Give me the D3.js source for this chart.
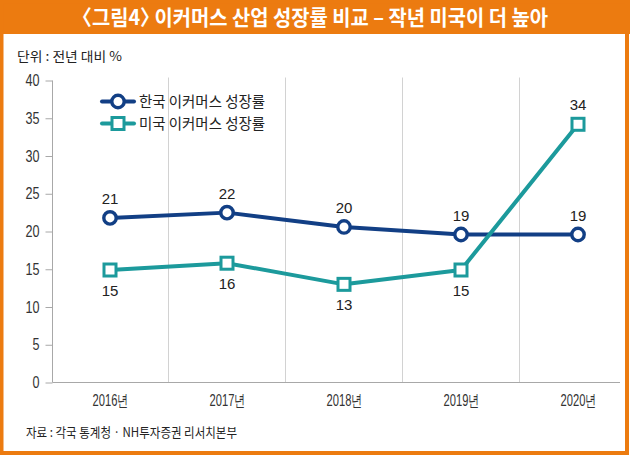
<!DOCTYPE html>
<html>
<head>
<meta charset="utf-8">
<script src="https://cdn.jsdelivr.net/npm/d3@7"></script>
<style>
  html, body { margin: 0; padding: 0; background: #fff; }
  svg { display: block; }
</style>
</head>
<body>
<svg id="chart" width="630" height="456"></svg>
<script>
// ---- data ----
const titleText = "〈그림4〉 이커머스 산업 성장률 비교 – 작년 미국이 더 높아";
const unitText = "단위 : 전년 대비 %";
const sourceText = "자료 : 각국 통계청 · NH투자증권 리서치본부";
const years = ["2016년", "2017년", "2018년", "2019년", "2020년"];
const seriesNames = ["한국 이커머스 성장률", "미국 이커머스 성장률"];
const korea = [21.8, 22.5, 20.6, 19.6, 19.6];
const koreaLabels = ["21", "22", "20", "19", "19"];
const us = [14.9, 15.8, 13.0, 14.9, 34.2];
const usLabels = ["15", "16", "13", "15", "34"];
const yTicks = [0, 5, 10, 15, 20, 25, 30, 35, 40];

// ---- style ----
const ORANGE = "#ec7b10";
const NAVY = "#123f85";
const TEAL = "#1c9a9c";
const KR = "'Noto Sans CJK KR', 'Noto Sans', sans-serif";
const NUM = "'Liberation Sans', Arial, sans-serif";
const NARROW = "'Liberation Sans Narrow', 'Liberation Sans', Arial, sans-serif";

const svg = d3.select("#chart");
const W = 630, H = 456;

svg.append("rect").attr("x", 0).attr("y", 0).attr("width", W).attr("height", H).attr("fill", "#fff");
// title bar
svg.append("rect").attr("x", 0).attr("y", 0).attr("width", W).attr("height", 34).attr("fill", ORANGE);
svg.append("text").text(titleText)
  .attr("x", 315).attr("y", 24.5).attr("text-anchor", "middle")
  .attr("font-family", KR).attr("font-weight", "bold").attr("font-size", 21)
  .attr("fill", "#fff")
  .style("font-feature-settings", "'halt' 1")
  .attr("textLength", 466).attr("lengthAdjust", "spacingAndGlyphs");
// border
svg.append("rect").attr("x", 1.5).attr("y", 1.5).attr("width", W - 4.5).attr("height", H - 4.5)
  .attr("fill", "none").attr("stroke", ORANGE).attr("stroke-width", 4);

// unit
svg.append("text").text(unitText)
  .attr("x", 17).attr("y", 61)
  .attr("font-family", KR).attr("font-size", 13).attr("fill", "#222")
  .attr("textLength", 105).attr("lengthAdjust", "spacingAndGlyphs");

// scales
const x = d3.scalePoint().domain(years).range([110, 578]);
const y = d3.scaleLinear().domain([0, 40]).range([382.5, 80.5]);
const step = x.step();

// vertical gridlines between categories
const g = svg.append("g");
g.selectAll("line.grid").data(years.slice(1)).enter().append("line")
  .attr("x1", d => x(d) - step / 2).attr("x2", d => x(d) - step / 2)
  .attr("y1", y(40) - 3).attr("y2", y(0))
  .attr("stroke", "#d2d2d2").attr("stroke-width", 1);

// y axis
const yAxis = d3.axisLeft(y).tickValues(yTicks).tickSize(7).tickPadding(6);
const yg = svg.append("g").attr("transform", "translate(52.5,0)").call(yAxis);
yg.select(".domain").attr("stroke", "#a8a8a8").attr("d", `M0,${y(40)}V${y(0)}`);
yg.selectAll(".tick line").attr("stroke", "#a8a8a8");
yg.selectAll(".tick text").attr("font-family", NARROW).attr("font-size", 16).attr("fill", "#333")
  .attr("textLength", d => String(d).length * 7).attr("lengthAdjust", "spacingAndGlyphs");

// x axis
const xAxis = d3.axisBottom(x).tickSize(0).tickPadding(12);
const xg = svg.append("g").attr("transform", `translate(0,${y(0)})`).call(xAxis);
xg.select(".domain").attr("stroke", "#a8a8a8").attr("d", `M52.5,0H620`);
xg.selectAll(".tick text").attr("font-family", NARROW).attr("font-size", 16).attr("fill", "#333")
  .attr("textLength", 36).attr("lengthAdjust", "spacingAndGlyphs");

// lines
const line = d3.line().x((d, i) => x(years[i])).y(d => y(d));
svg.append("path").datum(korea).attr("d", line)
  .attr("fill", "none").attr("stroke", NAVY).attr("stroke-width", 4).attr("stroke-linejoin", "round");
svg.append("path").datum(us).attr("d", line)
  .attr("fill", "none").attr("stroke", TEAL).attr("stroke-width", 4).attr("stroke-linejoin", "round");

// markers
svg.selectAll("circle.kr").data(korea).enter().append("circle")
  .attr("cx", (d, i) => x(years[i])).attr("cy", d => y(d)).attr("r", 6.2)
  .attr("fill", "#fff").attr("stroke", NAVY).attr("stroke-width", 3.4);
svg.selectAll("rect.us").data(us).enter().append("rect")
  .attr("x", (d, i) => x(years[i]) - 6).attr("y", d => y(d) - 6)
  .attr("width", 12).attr("height", 12)
  .attr("fill", "#fff").attr("stroke", TEAL).attr("stroke-width", 3);

// value labels
svg.selectAll("text.kr").data(korea).enter().append("text")
  .text((d, i) => koreaLabels[i])
  .attr("x", (d, i) => x(years[i])).attr("y", d => y(d) - 13.5)
  .attr("text-anchor", "middle").attr("font-family", NUM).attr("font-size", 15).attr("fill", "#222");
svg.selectAll("text.us").data(us).enter().append("text")
  .text((d, i) => usLabels[i])
  .attr("x", (d, i) => x(years[i]))
  .attr("y", (d, i) => i === us.length - 1 ? y(d) - 14.5 : y(d) + 25.5)
  .attr("text-anchor", "middle").attr("font-family", NUM).attr("font-size", 15).attr("fill", "#222");

// legend
const legend = svg.append("g");
const lgY = [101.5, 123.5];
const lgColors = [NAVY, TEAL];
seriesNames.forEach((name, i) => {
  legend.append("line").attr("x1", 102).attr("x2", 134).attr("y1", lgY[i]).attr("y2", lgY[i])
    .attr("stroke", lgColors[i]).attr("stroke-width", 4).attr("stroke-linecap", "round");
  if (i === 0) {
    legend.append("circle").attr("cx", 118).attr("cy", lgY[i]).attr("r", 6.2)
      .attr("fill", "#fff").attr("stroke", NAVY).attr("stroke-width", 3.4);
  } else {
    legend.append("rect").attr("x", 112).attr("y", lgY[i] - 6).attr("width", 12).attr("height", 12)
      .attr("fill", "#fff").attr("stroke", TEAL).attr("stroke-width", 3);
  }
  legend.append("text").text(name).attr("x", 139).attr("y", lgY[i] + 5.5)
    .attr("font-family", KR).attr("font-size", 15).attr("fill", "#222")
    .attr("textLength", 126).attr("lengthAdjust", "spacingAndGlyphs");
});

// source
svg.append("text").text(sourceText)
  .attr("x", 26).attr("y", 436.5)
  .attr("font-family", KR).attr("font-size", 13).attr("fill", "#222")
  .attr("textLength", 211).attr("lengthAdjust", "spacingAndGlyphs");
</script>
</body>
</html>
